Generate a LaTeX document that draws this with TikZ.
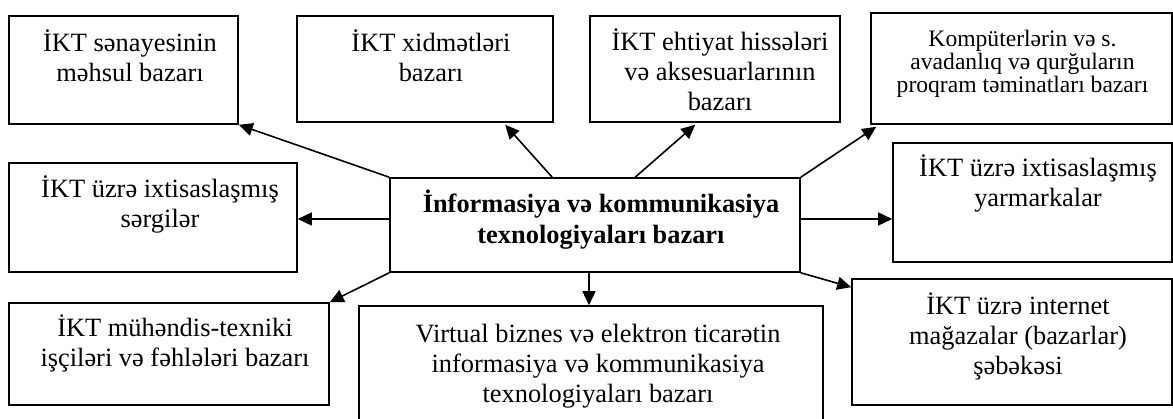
\documentclass[tikz,border=0pt]{standalone}
\usepackage{fontspec}
\setmainfont{Liberation Serif}
\usetikzlibrary{arrows.meta}
\begin{document}
\begin{tikzpicture}[x=1pt,y=-1pt,
  box/.style={draw=black, line width=1.6pt, fill=none, inner sep=0pt, rectangle},
  txt/.style={align=center, inner sep=0pt, anchor=base, font=\fontsize{26.4}{30}\selectfont},
  smalltxt/.style={align=center, inner sep=0pt, anchor=base, font=\fontsize{23.6}{23.2}\selectfont},
  boldtxt/.style={align=center, inner sep=0pt, anchor=base, font=\fontsize{26.4}{31}\selectfont\bfseries},
  arr/.style={line width=1.6pt, -{Triangle[length=14pt,width=13pt]}}]
\useasboundingbox (0,0) rectangle (1173,419);
\clip (0,0) rectangle (1173,419);
% boxes
\node[box, minimum width=410pt, minimum height=94pt] (c) at (595,225) {};
\node[box, minimum width=229pt, minimum height=108pt] (b1) at (123.5,70) {};
\node[box, minimum width=256pt, minimum height=106pt] (b2) at (425,69) {};
\node[box, minimum width=250pt, minimum height=106pt] (b3) at (715,69) {};
\node[box, minimum width=301pt, minimum height=111pt] (b4) at (1021.5,68.5) {};
\node[box, minimum width=288pt, minimum height=109pt] (b5) at (153,217.5) {};
\node[box, minimum width=279pt, minimum height=119pt] (b6) at (1032.5,202.5) {};
\node[box, minimum width=320pt, minimum height=102pt] (b7) at (169,354) {};
\node[box, minimum width=464pt, minimum height=140pt] (b8) at (591,376) {};
\node[box, minimum width=320pt, minimum height=126pt] (b9) at (1012,342) {};
% texts (anchored at the baseline of the last line)
\node[boldtxt] (tc) at (601,244) {İnformasiya və kommunikasiya\\texnologiyaları bazarı};
\node[txt] (t1) at (130,82) {İKT sənayesinin\\məhsul bazarı};
\node[txt] (t2) at (431,82) {İKT xidmətləri\\bazarı};
\node[txt] (t3) at (720,111) {İKT ehtiyat hissələri\\və aksesuarlarının\\bazarı};
\node[smalltxt] (t4) at (1022.5,93) {Kompüterlərin və s.\\avadanlıq və qurğuların\\proqram təminatları bazarı};
\node[txt] (t5) at (160,228) {İKT üzrə ixtisaslaşmış\\sərgilər};
\node[txt] (t6) at (1038,207) {İKT üzrə ixtisaslaşmış\\yarmarkalar};
\node[txt] (t7) at (175,367) {İKT mühəndis-texniki\\işçiləri və fəhlələri bazarı};
\node[txt] (t8) at (598,403) {Virtual biznes və elektron ticarətin\\informasiya və kommunikasiya\\texnologiyaları bazarı};
\node[txt] (t9) at (1018,375) {İKT üzrə internet\\mağazalar (bazarlar)\\şəbəkəsi};
% arrows
\draw[arr] (c.north west) -- (b1.south east);
\draw[arr] ([xshift=163pt]c.north west) -- ([xshift=209pt,yshift=-2pt]b2.south west);
\draw[arr] ([xshift=246pt]c.north west) -- ([xshift=106pt,yshift=-2pt]b3.south west);
\draw[arr] (c.north east) -- ([xshift=6pt,yshift=-2pt]b4.south west);
\draw[arr] ([yshift=6pt]c.west) -- ([yshift=6pt]c.west -| b5.east);
\draw[arr] ([yshift=6pt]c.east) -- ([yshift=6pt]c.east -| b6.west);
\draw[arr] (c.south west) -- (b7.north east);
\draw[arr] ([xshift=-6pt]c.south) -- ([xshift=-6pt]c.south |- b8.north);
\draw[arr] (c.south east) -- ([yshift=-9pt]b9.north west);
\end{tikzpicture}
\end{document}
